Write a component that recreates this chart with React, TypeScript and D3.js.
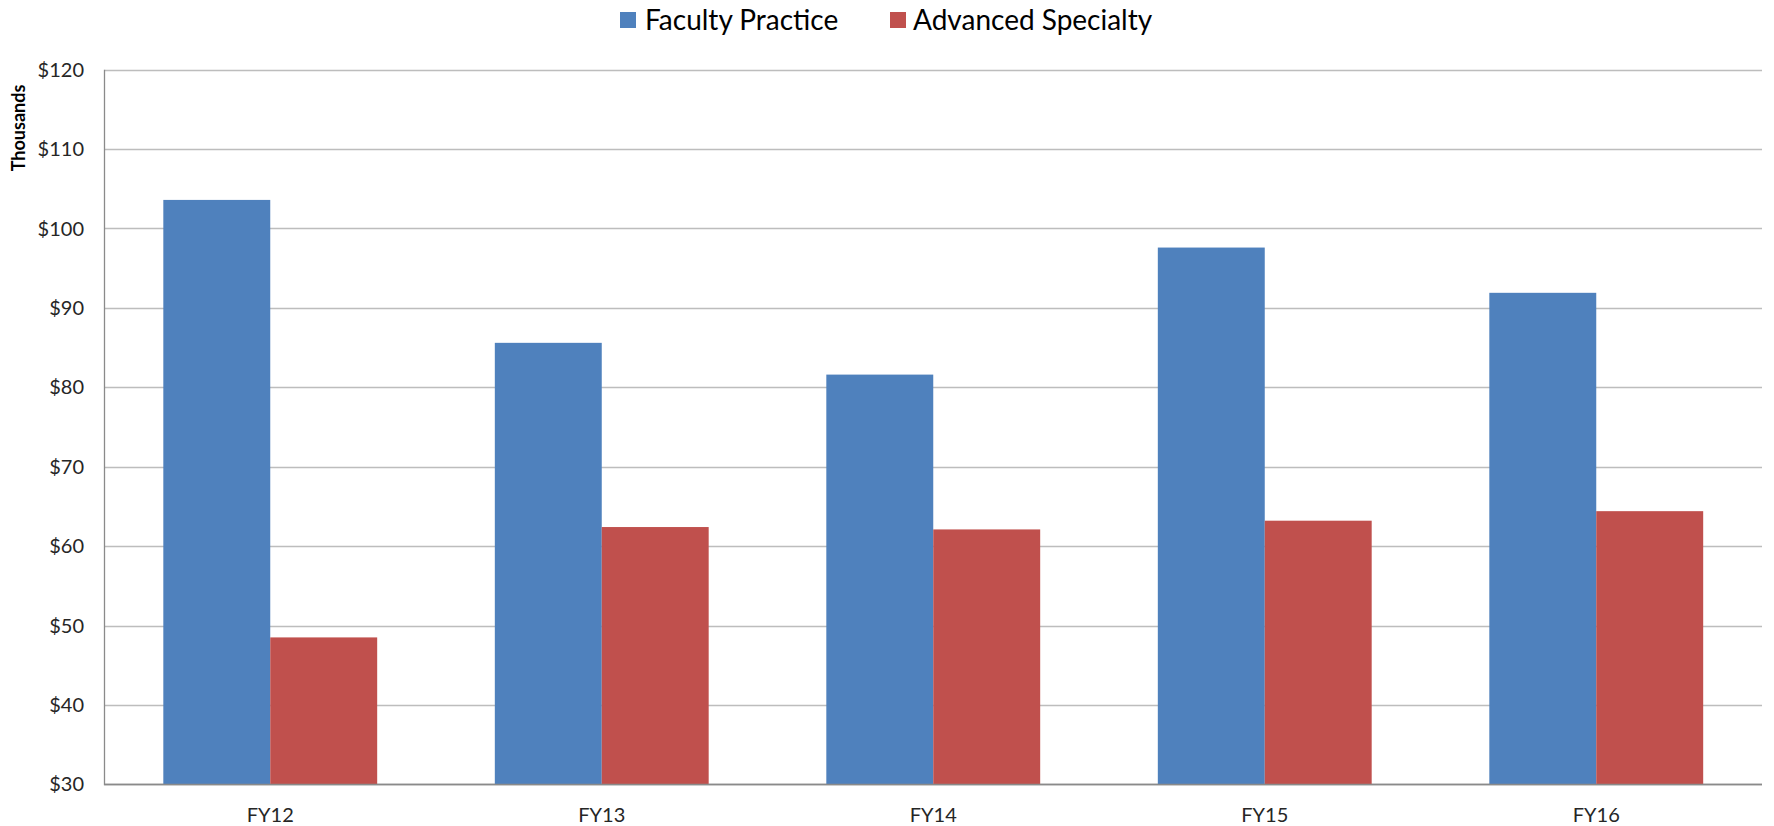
import React from "react";
import * as d3 from "d3";

const categories = ["FY12", "FY13", "FY14", "FY15", "FY16"];
const seriesNames = ["Faculty Practice", "Advanced Specialty"];
const facultyPractice = [103.6, 85.6, 81.6, 97.6, 91.9];
const advancedSpecialty = [48.5, 62.4, 62.1, 63.2, 64.4];
const yTicks = [30, 40, 50, 60, 70, 80, 90, 100, 110, 120];
const colors = ["#4F81BD", "#C0504D"];

const W = 1774;
const H = 826;
const M = { left: 104.5, right: 1762, top: 69.7, bottom: 784.3 };
const FONT = "Lato, 'Open Sans', sans-serif";

export default function App() {
  const x = d3.scaleBand<string>().domain(categories).range([M.left, M.right]).paddingInner(1.1 / 3.1).paddingOuter(0.55 / 3.1);
  const inner = d3.scaleBand<string>().domain(seriesNames).range([0, x.bandwidth()]);
  const y = d3.scaleLinear().domain([30, 120]).range([M.bottom, M.top]);
  const series = [facultyPractice, advancedSpecialty];

  return (
    <svg width={W} height={H} style={{ position: "absolute", left: 0, top: 0, background: "#fff" }} fontFamily={FONT}>
      {yTicks.map((t) => (
        <line key={t} x1={M.left} x2={M.right} y1={Math.round(y(t)) + 0.5} y2={Math.round(y(t)) + 0.5} stroke={t === 30 ? "#8a8a8a" : "#bdbdbd"} strokeWidth={1.3} />
      ))}
      {series.map((vals, si) =>
        vals.map((v, i) => (
          <rect
            key={si + "-" + i}
            x={(x(categories[i]) as number) + (inner(seriesNames[si]) as number)}
            y={y(v)}
            width={inner.bandwidth()}
            height={y(30) - y(v)}
            fill={colors[si]}
          />
        ))
      )}
      <line x1={M.left} x2={M.left} y1={M.top} y2={M.bottom + 1} stroke="#8a8a8a" strokeWidth={1.3} />
      <line x1={M.left} x2={M.right} y1={Math.round(y(30)) + 0.5} y2={Math.round(y(30)) + 0.5} stroke="#8a8a8a" strokeWidth={1.3} />
      {yTicks.map((t) => (
        <text key={"l" + t} x={84} y={y(t)} dy="0.35em" textAnchor="end" fontSize={20} fill="#262626">
          {"$" + t}
        </text>
      ))}
      {categories.map((c) => (
        <text key={c} x={(x(c) as number) + x.bandwidth() / 2} y={822} textAnchor="middle" fontSize={20} fill="#262626">
          {c}
        </text>
      ))}
      <text transform={`translate(25,128) rotate(-90)`} textAnchor="middle" fontSize={18} fontWeight="bold" fill="#000">
        Thousands
      </text>
      <g>
        <rect x={620} y={12} width={16} height={16} fill={colors[0]} />
        <text x={645} y={30} fontSize={28} fill="#000">{seriesNames[0]}</text>
        <rect x={890} y={12} width={16} height={16} fill={colors[1]} />
        <text x={913} y={30} fontSize={28} fill="#000">{seriesNames[1]}</text>
      </g>
    </svg>
  );
}
